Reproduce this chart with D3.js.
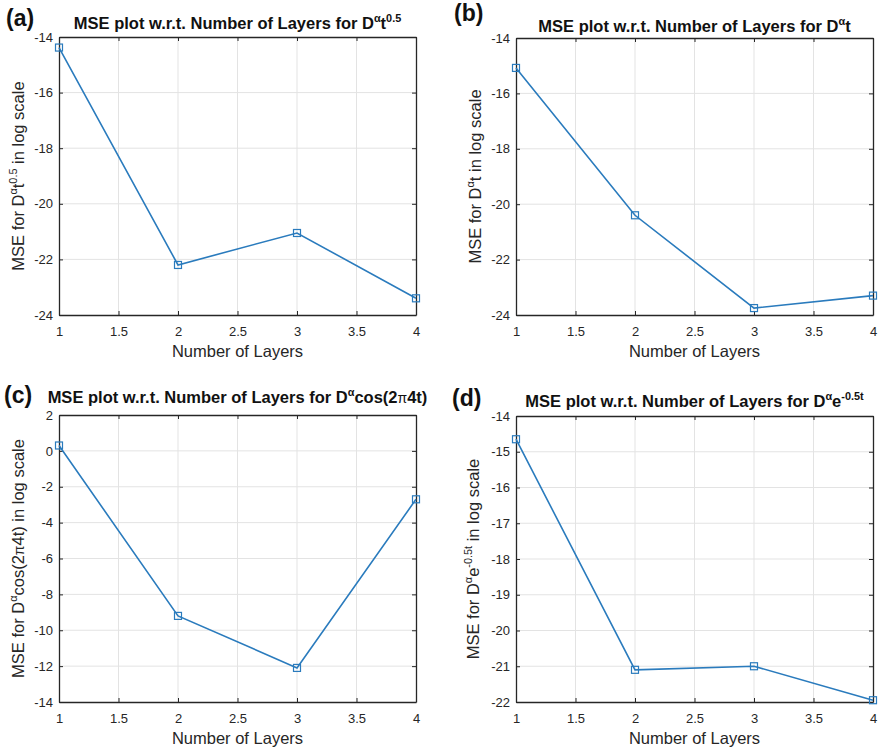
<!DOCTYPE html>
<html>
<head>
<meta charset="utf-8">
<script src="https://cdn.jsdelivr.net/npm/d3@7"></script>
<style>
  body { margin: 0; background: #ffffff; }
  text { font-family: "Liberation Sans", Arial, Helvetica, sans-serif; }
</style>
</head>
<body>
<div id="figure"></div>
<script>
// mse vs number of layers, four panels

var layers = [1, 2, 3, 4];
var xTicks = [1, 1.5, 2, 2.5, 3, 3.5, 4];

var mseA = [-14.38, -22.2, -21.05, -23.4];
var mseB = [-15.08, -20.4, -23.75, -23.3];
var mseC = [0.3, -9.2, -12.1, -2.7];
var mseD = [-14.65, -21.1, -21.0, -21.95];

var yTicksA = [-24, -22, -20, -18, -16, -14];
var yTicksB = [-24, -22, -20, -18, -16, -14];
var yTicksC = [-14, -12, -10, -8, -6, -4, -2, 0, 2];
var yTicksD = [-22, -21, -20, -19, -18, -17, -16, -15, -14];

var panelLabels = ["(a)", "(b)", "(c)", "(d)"];
var xLabel = "Number of Layers";

// title / ylabel pieces: [text, kind] kind = "n" normal, "s" superscript, "p" symbol
var titleA = [["MSE plot w.r.t. Number of Layers for D", "n"], ["\u03b1", "s"], ["t", "n"], ["0.5", "s"]];
var titleB = [["MSE plot w.r.t. Number of Layers for D", "n"], ["\u03b1", "s"], ["t", "n"]];
var titleC = [["MSE plot w.r.t. Number of Layers for D", "n"], ["\u03b1", "s"], ["cos(2", "n"], ["\u03c0", "p"], ["4t)", "n"]];
var titleD = [["MSE plot w.r.t. Number of Layers for D", "n"], ["\u03b1", "s"], ["e", "n"], ["-0.5t", "s"]];

var ylabA = [["MSE for D", "n"], ["\u03b1", "s"], ["t", "n"], ["0.5", "s"], [" in log scale", "n"]];
var ylabB = [["MSE for D", "n"], ["\u03b1", "s"], ["t in log scale", "n"]];
var ylabC = [["MSE for D", "n"], ["\u03b1", "s"], ["cos(2", "n"], ["\u03c0", "p"], ["4t) in log scale", "n"]];
var ylabD = [["MSE for D", "n"], ["\u03b1", "s"], ["e", "n"], ["-0.5t", "s"], [" in log scale", "n"]];

var W = 878, H = 752;
var lineColor = "#2a7bbd";
var axisColor = "#262626";
var gridColor = "#e3e3e3";

var svg = d3
  .select("#figure")
  .append("svg")
  .attr("width", W)
  .attr("height", H);

// write text made of normal and raised pieces
function richText(sel, parts, size) {
  var shift = 0;
  parts.forEach(function(p) {
    var t = sel.append("tspan").text(p[0]);
    if (p[1] == "s") {
      t.attr("font-size", size * 0.66).attr("dy", -size * 0.42 - shift);
      shift = -size * 0.42;
    } else {
      t.attr("dy", -shift);
      shift = 0;
      if (p[1] == "p") t.attr("font-weight", "normal").attr("font-size", size * 0.85);
    }
  });
}

function drawPanel(opt) {
  var x = d3.scaleLinear().domain([1, 4]).range([opt.left, opt.right]);
  var y = d3
    .scaleLinear()
    .domain(d3.extent(opt.yTicks))
    .range([opt.bottom, opt.top]);

  var g = svg.append("g");

  // grid
  g.selectAll(".gx")
    .data(xTicks.slice(1, -1))
    .enter()
    .append("line")
    .attr("x1", d => x(d))
    .attr("x2", d => x(d))
    .attr("y1", opt.top)
    .attr("y2", opt.bottom)
    .attr("stroke", gridColor)
    .attr("stroke-width", 1);
  g.selectAll(".gy")
    .data(opt.yTicks.slice(1, -1))
    .enter()
    .append("line")
    .attr("x1", opt.left)
    .attr("x2", opt.right)
    .attr("y1", d => y(d))
    .attr("y2", d => y(d))
    .attr("stroke", gridColor)
    .attr("stroke-width", 1);

  // axes, ticks pointing inwards on every side
  var axes = [
    d3.axisBottom(x).tickValues(xTicks).tickSize(-4).tickPadding(12).tickFormat(d3.format("")),
    d3.axisLeft(y).tickValues(opt.yTicks).tickSize(-4).tickPadding(6),
    d3.axisTop(x).tickValues(xTicks).tickSize(-4).tickFormat(""),
    d3.axisRight(y).tickValues(opt.yTicks).tickSize(-4).tickFormat("")
  ];
  var moves = [
    "translate(0," + opt.bottom + ")",
    "translate(" + opt.left + ",0)",
    "translate(0," + opt.top + ")",
    "translate(" + opt.right + ",0)"
  ];
  axes.forEach(function(ax, i) {
    var a = g.append("g")
      .attr("transform", moves[i])
      .call(ax.tickSizeOuter(0));
    a.select(".domain").attr("stroke", axisColor).attr("stroke-width", 1.3);
    a.selectAll(".tick line").attr("stroke", axisColor).attr("stroke-width", 1);
    a.selectAll(".tick text")
      .attr("fill", axisColor)
      .style("font-size", "13px")
      .style("font-family", '"Liberation Sans", Arial, sans-serif');
  });
  // matlab uses a plain hyphen for negatives
  g.selectAll(".tick text").text(function() { return this.textContent.replace("\u2212", "-"); });

  // line and square markers
  var pts = layers.map((d, i) => ({ layer: d, mse: opt.values[i] }));
  g.append("path")
    .datum(pts)
    .attr("d", d3.line().x(d => x(d.layer)).y(d => y(d.mse)))
    .attr("fill", "none")
    .attr("stroke", lineColor)
    .attr("stroke-width", 1.6);
  g.selectAll(".dot")
    .data(pts)
    .enter()
    .append("rect")
    .attr("x", d => x(d.layer) - 3.5)
    .attr("y", d => y(d.mse) - 3.5)
    .attr("width", 7)
    .attr("height", 7)
    .attr("fill", "none")
    .attr("stroke", lineColor)
    .attr("stroke-width", 1.2);

  // title
  var cx = (opt.left + opt.right) / 2;
  var title = g.append("text")
    .attr("x", cx)
    .attr("y", opt.titleY)
    .attr("text-anchor", "middle")
    .attr("font-size", 16.5)
    .attr("font-weight", "bold")
    .attr("fill", "#111");
  richText(title, opt.title, 16.5);

  // x label
  g.append("text")
    .attr("x", cx)
    .attr("y", opt.bottom + 42)
    .attr("text-anchor", "middle")
    .attr("font-size", 16.5)
    .attr("fill", axisColor)
    .text(xLabel);

  // y label
  var ylab = g.append("text")
    .attr("transform", "translate(" + opt.ylabX + "," + (opt.top + opt.bottom) / 2 + ") rotate(-90)")
    .attr("text-anchor", "middle")
    .attr("font-size", 16.5)
    .attr("fill", axisColor);
  richText(ylab, opt.ylab, 16.5);

  // panel label
  g.append("text")
    .attr("x", opt.labelX)
    .attr("y", opt.labelY)
    .attr("font-size", 23)
    .attr("font-weight", "bold")
    .attr("fill", "#111")
    .text(opt.label);
}

drawPanel({ left: 59, right: 416, top: 37, bottom: 315, yTicks: yTicksA, values: mseA,
  title: titleA, ylab: ylabA, titleY: 29, ylabX: 24, label: panelLabels[0], labelX: 6, labelY: 26 });
drawPanel({ left: 516, right: 873, top: 38, bottom: 315, yTicks: yTicksB, values: mseB,
  title: titleB, ylab: ylabB, titleY: 32, ylabX: 481, label: panelLabels[1], labelX: 454, labelY: 21 });
drawPanel({ left: 59, right: 416, top: 415, bottom: 702, yTicks: yTicksC, values: mseC,
  title: titleC, ylab: ylabC, titleY: 403, ylabX: 24, label: panelLabels[2], labelX: 4, labelY: 403 });
drawPanel({ left: 516, right: 873, top: 416, bottom: 702, yTicks: yTicksD, values: mseD,
  title: titleD, ylab: ylabD, titleY: 407, ylabX: 479, label: panelLabels[3], labelX: 452, labelY: 406 });
</script>
</body>
</html>
